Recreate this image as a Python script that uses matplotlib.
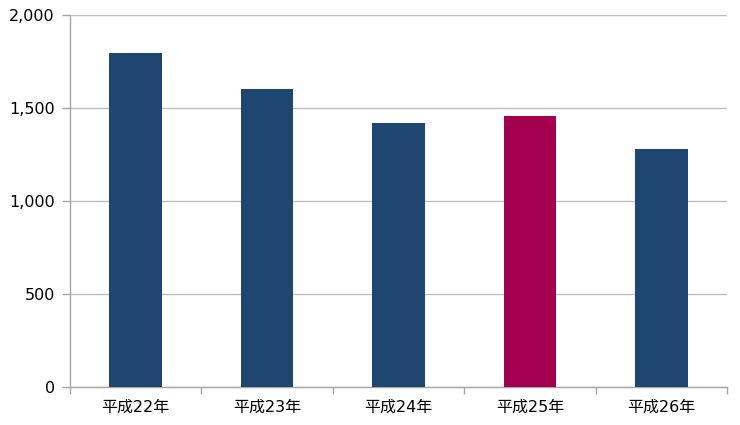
import matplotlib
matplotlib.use("Agg")
import matplotlib.pyplot as plt
import numpy as np

plt.rcParams['font.family'] = ['DejaVu Sans', 'Noto Sans CJK JP']

categories = ["平成22年", "平成23年", "平成24年", "平成25年", "平成26年"]
values = [1795, 1600, 1420, 1455, 1280]
bar_colors = ["#1F4670", "#1F4670", "#1F4670", "#A50050", "#1F4670"]
yticks = [0, 500, 1000, 1500, 2000]
ytick_labels = ["0", "500", "1,000", "1,500", "2,000"]

fig = plt.figure(figsize=(7.4, 4.25), dpi=100)
ax = fig.add_axes([70/740, 1-387/425, (727-70)/740, (387-15)/425])

x = np.arange(len(categories))
ax.bar(x, values, width=0.4, color=bar_colors, zorder=3)

ax.set_xlim(-0.5, len(categories) - 0.5)
ax.set_ylim(0, 2000)
ax.set_yticks(yticks)
ax.set_yticklabels(ytick_labels, fontsize=11.5, color="#000000")
ax.set_xticks(x)
ax.set_xticklabels(categories, fontsize=11.5, color="#000000")
ax.tick_params(axis='x', length=0, pad=9)
ax.set_xticks(np.arange(-0.5, len(categories)), minor=True)
ax.tick_params(axis='x', which='minor', length=5, color="#A6A6A6", width=1)
ax.tick_params(axis='y', length=6, color="#A6A6A6", width=1, pad=5)

ax.grid(axis='y', color="#BFBFBF", linewidth=1, zorder=0)
for s in ['top', 'right']:
    ax.spines[s].set_visible(False)
for s in ['left', 'bottom']:
    ax.spines[s].set_color("#A6A6A6")
    ax.spines[s].set_linewidth(1)

fig.savefig("out.png", dpi=100)
